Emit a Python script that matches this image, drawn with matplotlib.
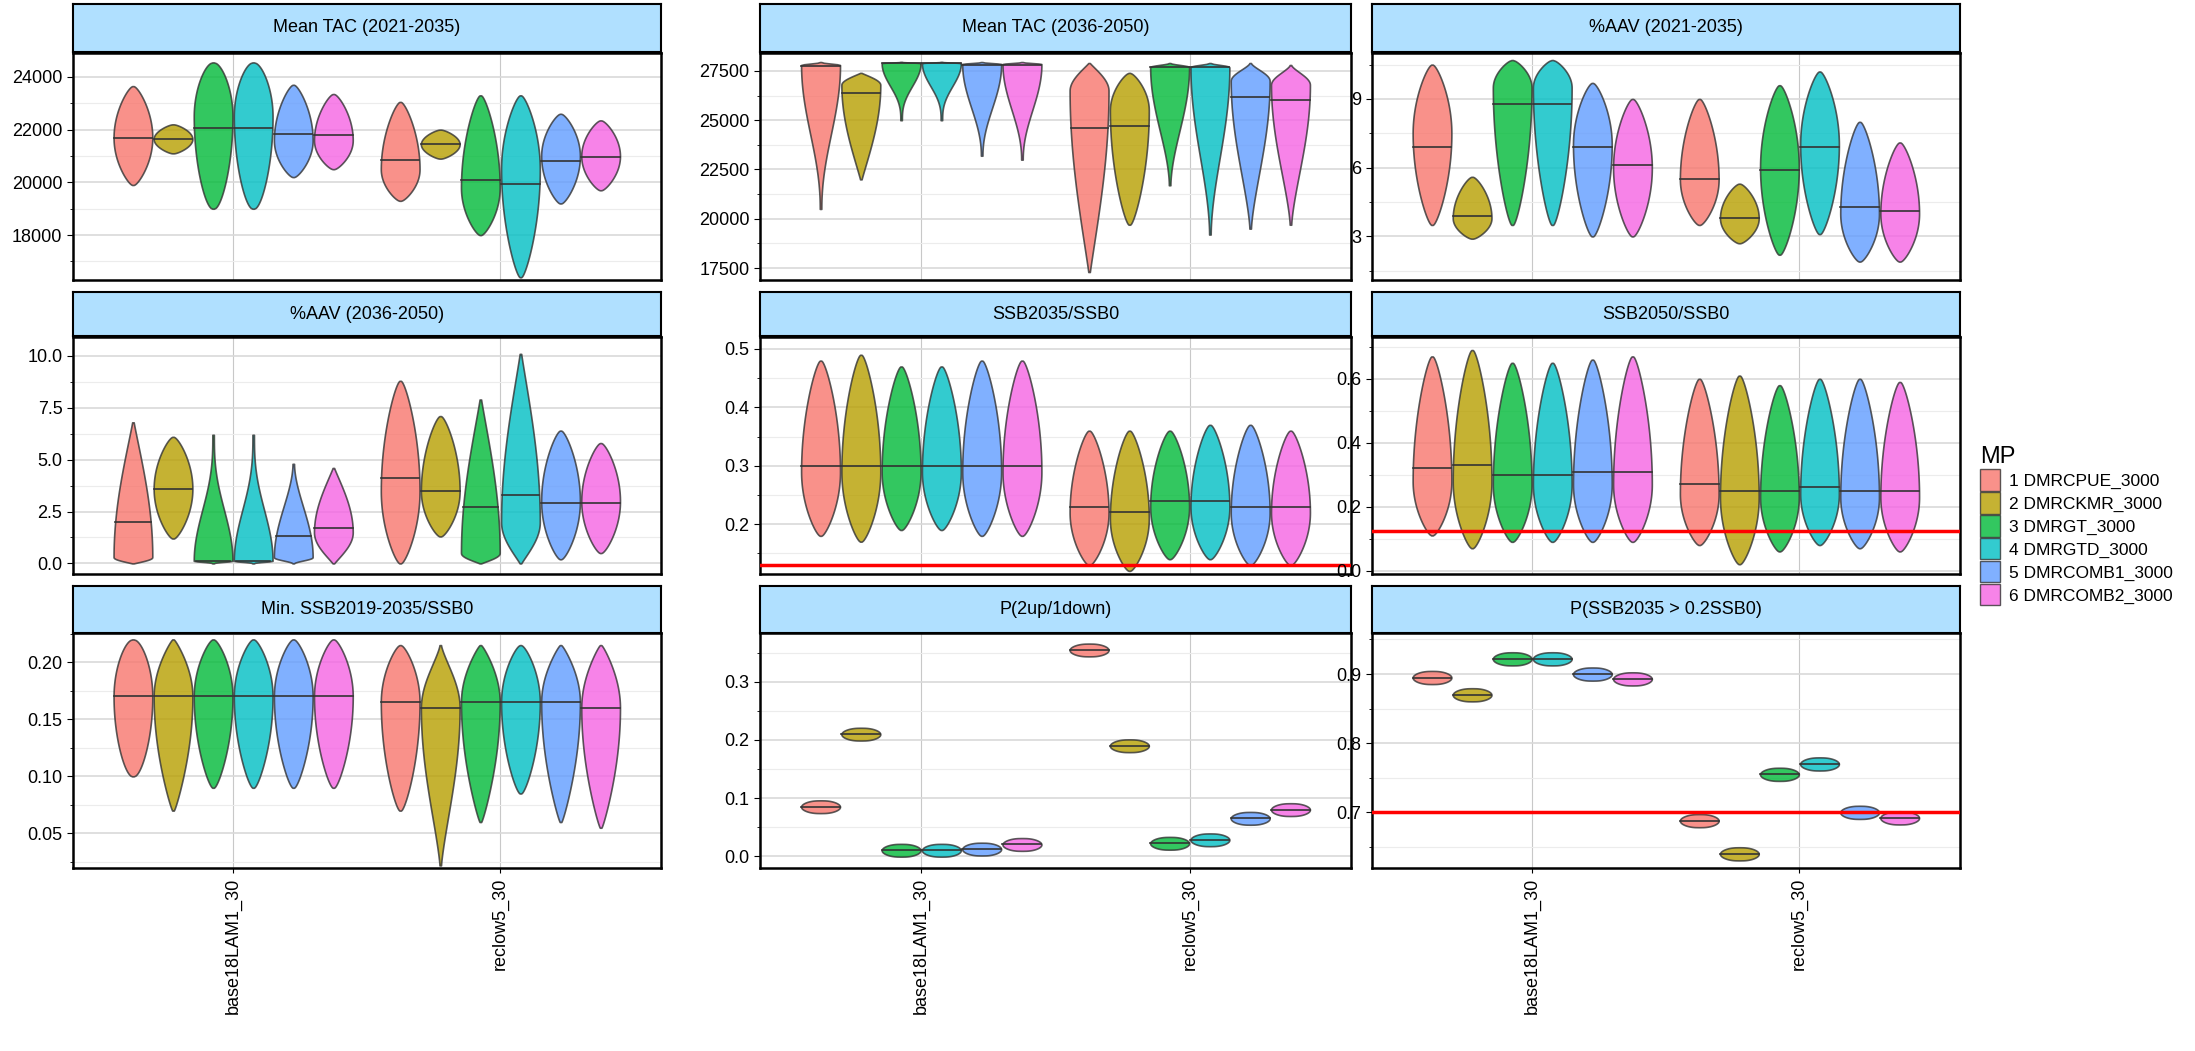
import numpy as np
import matplotlib
matplotlib.use("Agg")
import matplotlib.pyplot as plt
from matplotlib.patches import Patch
from matplotlib.ticker import MultipleLocator

plt.rcParams['font.family'] = ['Liberation Sans', 'DejaVu Sans']

mps = ["1 DMRCPUE_3000", "2 DMRCKMR_3000", "3 DMRGT_3000",
       "4 DMRGTD_3000", "5 DMRCOMB1_3000", "6 DMRCOMB2_3000"]
colors = ["#F8766D", "#B79F00", "#00BA38", "#00BFC4", "#619CFF", "#F564E3"]
oms = ["base18LAM1_30", "reclow5_30"]

# each violin: (min, median, max, y of widest point, tail sharpness)
panels = [
    ("Mean TAC (2021-2035)", (16300, 24900), 2000, None, [
        [(19900, 21700, 23650, 21700, 1), (21100, 21650, 22200, 21650, 1),
         (19000, 22050, 24550, 22500, 0.8), (19000, 22050, 24550, 22500, 0.8),
         (20200, 21850, 23700, 21600, 1), (20500, 21800, 23350, 21600, 1)],
        [(19300, 20850, 23050, 20500, 1), (20900, 21450, 22000, 21450, 1),
         (18000, 20100, 23300, 19800, 1), (16400, 19950, 23300, 20500, 1),
         (19200, 20800, 22600, 21000, 1), (19700, 20950, 22350, 21000, 1)]]),
    ("Mean TAC (2036-2050)", (16900, 28400), 2500, None, [
        [(20500, 27750, 27950, 27800, 3), (22000, 26400, 27400, 26800, 1.5),
         (25000, 27900, 27960, 27900, 4), (25000, 27900, 27960, 27900, 4),
         (23200, 27800, 27950, 27850, 3), (23000, 27800, 27950, 27850, 3)],
        [(17300, 24600, 27900, 26500, 1.5), (19700, 24700, 27400, 25500, 1),
         (21700, 27700, 27900, 27700, 2.5), (19200, 27700, 27900, 27700, 2.5),
         (19500, 26200, 27900, 27000, 2), (19700, 26000, 27800, 26800, 2)]]),
    ("%AAV (2021-2035)", (1.1, 11.0), 3, None, [
        [(3.5, 6.9, 10.5, 7.5, 1), (2.9, 3.9, 5.6, 3.8, 1),
         (3.5, 8.8, 10.7, 9.5, 1), (3.5, 8.8, 10.7, 9.5, 1),
         (3.0, 6.9, 9.7, 7.0, 1), (3.0, 6.1, 9.0, 6.0, 1)],
        [(3.5, 5.5, 9.0, 5.5, 1), (2.7, 3.8, 5.3, 3.8, 1),
         (2.2, 5.9, 9.6, 6.0, 1), (3.1, 6.9, 10.2, 7.0, 1),
         (1.9, 4.3, 8.0, 4.0, 1), (1.9, 4.1, 7.1, 4.0, 1)]]),
    ("%AAV (2036-2050)", (-0.5, 10.9), 2.5, None, [
        [(0.0, 2.0, 6.8, 0.3, 1.5), (1.2, 3.6, 6.1, 3.6, 1),
         (0.0, 0.1, 6.2, 0.1, 4), (0.0, 0.1, 6.2, 0.1, 4),
         (0.0, 1.3, 4.8, 0.3, 2.5), (0.0, 1.7, 4.6, 1.5, 1.5)],
        [(0.0, 4.1, 8.8, 3.5, 1), (1.3, 3.5, 7.1, 3.5, 1),
         (0.0, 2.7, 7.9, 0.5, 1.5), (0.0, 3.3, 10.1, 2.0, 1.5),
         (0.2, 2.9, 6.4, 3.0, 1), (0.5, 2.9, 5.8, 3.0, 1)]]),
    ("SSB2035/SSB0", (0.115, 0.52), 0.1, 0.13, [
        [(0.18, 0.30, 0.48, 0.29, 1), (0.17, 0.30, 0.49, 0.29, 1),
         (0.19, 0.30, 0.47, 0.29, 1), (0.19, 0.30, 0.47, 0.29, 1),
         (0.18, 0.30, 0.48, 0.29, 1), (0.18, 0.30, 0.48, 0.29, 1)],
        [(0.13, 0.23, 0.36, 0.22, 1), (0.12, 0.22, 0.36, 0.21, 1),
         (0.14, 0.24, 0.36, 0.23, 1), (0.14, 0.24, 0.37, 0.23, 1),
         (0.13, 0.23, 0.37, 0.22, 1), (0.13, 0.23, 0.36, 0.22, 1)]]),
    ("SSB2050/SSB0", (-0.01, 0.73), 0.2, 0.125, [
        [(0.11, 0.32, 0.67, 0.28, 1), (0.07, 0.33, 0.69, 0.28, 1),
         (0.09, 0.30, 0.65, 0.27, 1), (0.09, 0.30, 0.65, 0.27, 1),
         (0.09, 0.31, 0.66, 0.27, 1), (0.09, 0.31, 0.67, 0.27, 1)],
        [(0.08, 0.27, 0.60, 0.24, 1), (0.02, 0.25, 0.61, 0.23, 1),
         (0.06, 0.25, 0.58, 0.23, 1), (0.08, 0.26, 0.60, 0.24, 1),
         (0.07, 0.25, 0.60, 0.23, 1), (0.06, 0.25, 0.59, 0.23, 1)]]),
    ("Min. SSB2019-2035/SSB0", (0.02, 0.226), 0.05, None, [
        [(0.10, 0.17, 0.22, 0.17, 0.8), (0.07, 0.17, 0.22, 0.17, 1.2),
         (0.09, 0.17, 0.22, 0.17, 1), (0.09, 0.17, 0.22, 0.17, 1),
         (0.09, 0.17, 0.22, 0.17, 1), (0.09, 0.17, 0.22, 0.17, 1)],
        [(0.07, 0.165, 0.215, 0.165, 1), (0.022, 0.16, 0.215, 0.16, 1.8),
         (0.06, 0.165, 0.215, 0.165, 1.2), (0.085, 0.165, 0.215, 0.165, 1),
         (0.06, 0.165, 0.215, 0.165, 1.2), (0.055, 0.16, 0.215, 0.16, 1.2)]]),
]
p2up = [[0.085, 0.21, 0.01, 0.01, 0.012, 0.02],
        [0.355, 0.19, 0.022, 0.028, 0.065, 0.08]]
pssb = [[0.895, 0.87, 0.922, 0.922, 0.90, 0.893],
        [0.688, 0.64, 0.755, 0.77, 0.70, 0.692]]
panels.append(("P(2up/1down)", (-0.02, 0.385), 0.1, None,
               [[(v - 0.011, v, v + 0.011, v, 0.6) for v in g] for g in p2up]))
panels.append(("P(SSB2035 > 0.2SSB0)", (0.62, 0.96), 0.1, 0.7,
               [[(v - 0.0095, v, v + 0.0095, v, 0.6) for v in g] for g in pssb]))

W = 0.145
dodge = 0.15


def half_width(y, lo, hi, pk, k):
    pk = min(max(pk, lo + (hi - lo) * 0.02), hi - (hi - lo) * 0.02)
    u = np.where(y < pk, (y - lo) / (pk - lo) * 0.5, 0.5 + (y - pk) / (hi - pk) * 0.5)
    w = np.sin(np.pi * np.clip(u, 0, 1)) ** (0.7 * k)
    return W / 2 * (0.04 + 0.96 * w)


def draw_violin(ax, x, v, c):
    lo, med, hi, pk, k = v
    y = np.linspace(lo, hi, 200)
    hw = half_width(y, lo, hi, pk, k)
    ax.fill_betweenx(y, x - hw, x + hw, facecolor=c, alpha=0.8,
                     edgecolor="#333333", linewidth=1.2, zorder=3)
    m = half_width(np.array([med]), lo, hi, pk, k)[0]
    ax.plot([x - m, x + m], [med, med], color="#333333", lw=1.2, zorder=4)


cols = [(52, 472), (543, 965), (980, 1400)]
rows = [((3, 37), (38, 200)), ((209, 240), (241, 410)), ((419, 452), (452, 620))]
DW, DH = 1568, 751

fig = plt.figure(figsize=(21.95, 10.51), dpi=100)
for i, (title, ylim, step, hline, groups) in enumerate(panels):
    r, cidx = divmod(i, 3)
    x0, x1 = cols[cidx]
    (s0, s1), (p0, p1) = rows[r]
    ax = fig.add_axes([x0 / DW, 1 - p1 / DH, (x1 - x0) / DW, (p1 - p0) / DH])
    sx = fig.add_axes([x0 / DW, 1 - s1 / DH, (x1 - x0) / DW, (s1 - s0) / DH])
    sx.set_facecolor("#B0E0FF")
    sx.set_xticks([]); sx.set_yticks([])
    for sp in sx.spines.values():
        sp.set_linewidth(1.5)
    sx.text(0.5, 0.5, title, ha="center", va="center", fontsize=13, transform=sx.transAxes)

    for gi, g in enumerate(groups):
        for j, v in enumerate(g):
            draw_violin(ax, gi + 1 + (j - 2.5) * dodge, v, colors[j])
    if hline is not None:
        ax.axhline(hline, color="red", lw=2.5, zorder=5)
    ax.set_xlim(0.4, 2.6)
    ax.set_ylim(*ylim)
    ax.yaxis.set_major_locator(MultipleLocator(step))
    ax.yaxis.set_minor_locator(MultipleLocator(step / 2))
    ax.grid(which="major", axis="y", color="#d9d9d9", lw=1.2)
    ax.grid(which="minor", axis="y", color="#ececec", lw=0.8)
    ax.set_xticks([1, 2])
    ax.grid(which="major", axis="x", color="#c8c8c8", lw=0.8)
    ax.set_axisbelow(True)
    for sp in ax.spines.values():
        sp.set_linewidth(1.8)
    ax.tick_params(axis="y", labelsize=13, length=4)
    if r == 2:
        ax.set_xticklabels(oms, rotation=90, fontsize=13)
    else:
        ax.set_xticklabels([])
        ax.tick_params(axis="x", length=0)
    if i == 2:
        ax.yaxis.set_major_formatter(plt.FuncFormatter(lambda v, p: f"{v:g}"))
    if i == 3:
        ax.yaxis.set_major_formatter(plt.FuncFormatter(lambda v, p: f"{v:.1f}"))

handles = [Patch(facecolor=c, alpha=0.8, edgecolor="#333333") for c in colors]
fig.legend(handles, mps, title="MP", loc="center left", bbox_to_anchor=(1403 / DW, 0.5),
           frameon=False, fontsize=12.5, title_fontsize=17, handlelength=1.2,
           handleheight=1.5, labelspacing=0.1, handletextpad=0.5, alignment="left")
fig.savefig("out.png", dpi=100)
